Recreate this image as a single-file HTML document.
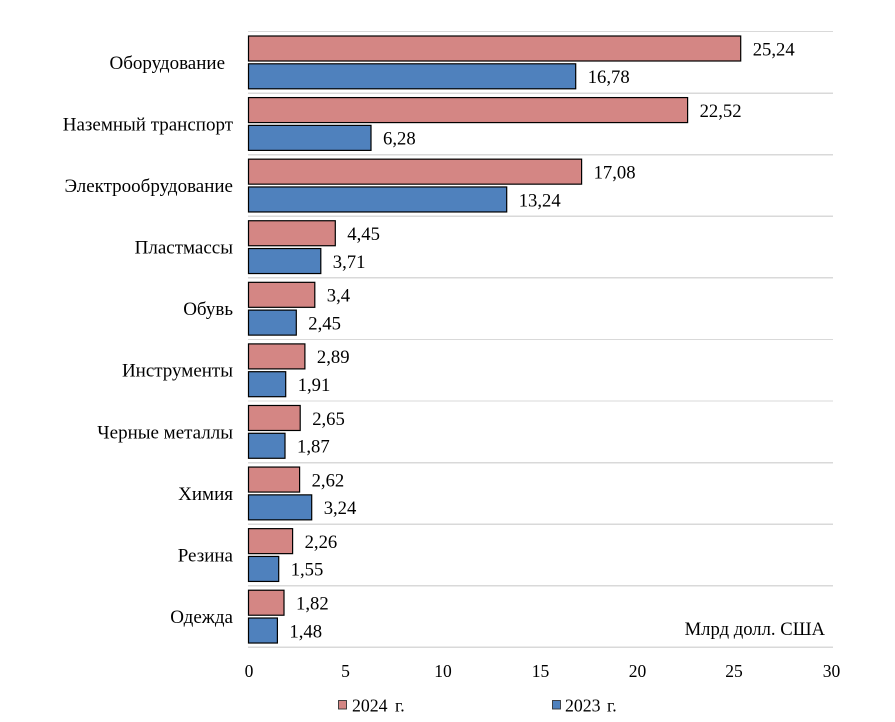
<!DOCTYPE html>
<html>
<head>
<meta charset="utf-8">
<style>
  html, body { margin: 0; padding: 0; background: #ffffff; }
  svg { display: block; }
  text { font-family: "Liberation Serif", "Noto Serif CJK SC", serif; font-size: 18.67px; fill: #000; }
  .cat { font-size: 19px; }
  .val { font-size: 18.67px; }
  .tick { font-size: 17.5px; }
  .leg { font-size: 17.8px; }
</style>
</head>
<body>
<svg width="895" height="722" viewBox="0 0 895 722" xmlns="http://www.w3.org/2000/svg">
  <rect x="0" y="0" width="895" height="722" fill="#ffffff"/>
  <!-- grid lines -->
  <g stroke="#d9d9d9" stroke-width="1.3" shape-rendering="crispEdges">
    <line x1="248" y1="31.5" x2="833" y2="31.5"/>
    <line x1="248" y1="93.1" x2="833" y2="93.1"/>
    <line x1="248" y1="154.7" x2="833" y2="154.7"/>
    <line x1="248" y1="216.2" x2="833" y2="216.2"/>
    <line x1="248" y1="277.8" x2="833" y2="277.8"/>
    <line x1="248" y1="339.4" x2="833" y2="339.4"/>
    <line x1="248" y1="401" x2="833" y2="401"/>
    <line x1="248" y1="462.6" x2="833" y2="462.6"/>
    <line x1="248" y1="524.1" x2="833" y2="524.1"/>
    <line x1="248" y1="585.7" x2="833" y2="585.7"/>
    <line x1="248" y1="647.3" x2="833" y2="647.3"/>
  </g>

  <!-- pink bars (2024) -->
  <g fill="#d48684" stroke="#000" stroke-width="1.2">
    <rect x="248.5" y="36" width="492.2" height="25"/>
    <rect x="248.5" y="97.58" width="439.1" height="25"/>
    <rect x="248.5" y="159.16" width="333.1" height="25"/>
    <rect x="248.5" y="220.74" width="86.8" height="25"/>
    <rect x="248.5" y="282.32" width="66.3" height="25"/>
    <rect x="248.5" y="343.9" width="56.4" height="25"/>
    <rect x="248.5" y="405.48" width="51.7" height="25"/>
    <rect x="248.5" y="467.06" width="51.1" height="25"/>
    <rect x="248.5" y="528.64" width="44.1" height="25"/>
    <rect x="248.5" y="590.22" width="35.5" height="25"/>
  </g>
  <!-- blue bars (2023) -->
  <g fill="#4f81bd" stroke="#000" stroke-width="1.2">
    <rect x="248.5" y="63.8" width="327.2" height="25"/>
    <rect x="248.5" y="125.38" width="122.5" height="25"/>
    <rect x="248.5" y="186.96" width="258.2" height="25"/>
    <rect x="248.5" y="248.54" width="72.3" height="25"/>
    <rect x="248.5" y="310.12" width="47.8" height="25"/>
    <rect x="248.5" y="371.7" width="37.2" height="25"/>
    <rect x="248.5" y="433.28" width="36.5" height="25"/>
    <rect x="248.5" y="494.86" width="63.2" height="25"/>
    <rect x="248.5" y="556.44" width="30.2" height="25"/>
    <rect x="248.5" y="618.02" width="28.9" height="25"/>
  </g>

  <!-- value labels pink -->
  <g class="val">
  <text class="val" x="752.7" y="55.3">25,24</text>
  <text class="val" x="699.6" y="116.9">22,52</text>
  <text class="val" x="593.6" y="178.5">17,08</text>
  <text class="val" x="347.3" y="240">4,45</text>
  <text class="val" x="326.8" y="301.6">3,4</text>
  <text class="val" x="316.9" y="363.2">2,89</text>
  <text class="val" x="312.2" y="424.8">2,65</text>
  <text class="val" x="311.6" y="486.4">2,62</text>
  <text class="val" x="304.6" y="547.9">2,26</text>
  <text class="val" x="296" y="609.5">1,82</text>
  <!-- value labels blue -->
  <text class="val" x="587.7" y="83.1">16,78</text>
  <text class="val" x="383" y="144.7">6,28</text>
  <text class="val" x="518.7" y="206.3">13,24</text>
  <text class="val" x="332.8" y="267.8">3,71</text>
  <text class="val" x="308.3" y="329.4">2,45</text>
  <text class="val" x="297.7" y="391">1,91</text>
  <text class="val" x="297" y="452.6">1,87</text>
  <text class="val" x="323.7" y="514.2">3,24</text>
  <text class="val" x="290.7" y="575.7">1,55</text>
  <text class="val" x="289.4" y="637.3">1,48</text>
  </g>

  <!-- category labels -->
  <g text-anchor="end">
    <text class="cat" x="225" y="68.8">Оборудование</text>
    <text class="cat" x="233" y="130.4">Наземный транспорт</text>
    <text class="cat" x="233" y="192">Электрообрудование</text>
    <text class="cat" x="233" y="253.5">Пластмассы</text>
    <text class="cat" x="233" y="315.1">Обувь</text>
    <text class="cat" x="233" y="376.7">Инструменты</text>
    <text class="cat" x="233" y="438.3">Черные металлы</text>
    <text class="cat" x="233" y="499.9">Химия</text>
    <text class="cat" x="233" y="561.4">Резина</text>
    <text class="cat" x="233" y="623">Одежда</text>
  </g>

  <!-- units -->
  <text class="val" x="825" y="635" text-anchor="end">Млрд долл. США</text>

  <!-- x axis tick labels -->
  <g text-anchor="middle">
    <text class="tick" x="249" y="677">0</text>
    <text class="tick" x="345.5" y="677">5</text>
    <text class="tick" x="443" y="677">10</text>
    <text class="tick" x="540.5" y="677">15</text>
    <text class="tick" x="637.5" y="677">20</text>
    <text class="tick" x="734" y="677">25</text>
    <text class="tick" x="831.5" y="677">30</text>
  </g>

  <!-- legend -->
  <rect x="338.5" y="700.5" width="8" height="8.5" fill="#d48684" stroke="#333" stroke-width="0.9"/>
  <text class="leg" x="352" y="711.7">2024</text>
  <text class="leg" x="395" y="711.7">г.</text>
  <rect x="552.5" y="700.5" width="8" height="8.5" fill="#4f81bd" stroke="#333" stroke-width="0.9"/>
  <text class="leg" x="565" y="711.7">2023</text>
  <text class="leg" x="607" y="711.7">г.</text>
</svg>
</body>
</html>
